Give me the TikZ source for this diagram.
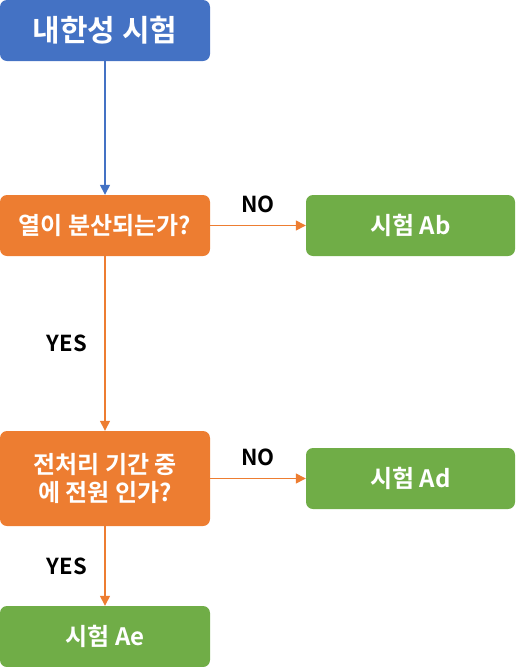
\documentclass[tikz,border=0pt]{standalone}
\usepackage{fontspec}
\setmainfont{Noto Sans CJK KR}[BoldFont={* Bold}]
\usetikzlibrary{arrows.meta}
\definecolor{cblue}{HTML}{4472C4}
\definecolor{corange}{HTML}{ED7D31}
\definecolor{cgreen}{HTML}{70AD47}
\begin{document}
\begin{tikzpicture}[x=1pt,y=-1pt,
  boxst/.style={rounded corners=7pt, inner sep=0pt, text=white, font=\bfseries\fontsize{24}{28}\selectfont, align=center},
  conn/.style={line width=1.4pt, -{Triangle[length=10pt,width=10pt]}},
  lbl/.style={font=\bfseries\fontsize{22}{26}\selectfont, text=black}]
\useasboundingbox (0,0) rectangle (516,667);
\node[boxst, fill=cblue, minimum width=210pt, minimum height=61pt, font=\bfseries\fontsize{30}{34}\selectfont] (start) at (105,30.5) {내한성 시험};
\node[boxst, fill=corange, minimum width=210pt, minimum height=61pt] (q1) at (105,225.5) {열이 분산되는가?};
\node[boxst, fill=cgreen, minimum width=209pt, minimum height=61pt] (ab) at (410.5,225.5) {시험 Ab};
\node[boxst, fill=corange, minimum width=210pt, minimum height=95pt] (q2) at (105,478.5) {전처리 기간 중\\에 전원 인가?};
\node[boxst, fill=cgreen, minimum width=209pt, minimum height=61pt] (ad) at (410.5,478.5) {시험 Ad};
\node[boxst, fill=cgreen, minimum width=210pt, minimum height=61pt] (ae) at (105,636.5) {시험 Ae};
\draw[conn, cblue] (start) -- (q1);
\draw[conn, corange] (q1) -- node[lbl, above=9pt] {NO} (ab);
\draw[conn, corange] (q1) -- node[lbl, left=14pt] {YES} (q2);
\draw[conn, corange] (q2) -- node[lbl, above=9pt] {NO} (ad);
\draw[conn, corange] (q2) -- node[lbl, left=14pt] {YES} (ae);
\end{tikzpicture}
\end{document}
